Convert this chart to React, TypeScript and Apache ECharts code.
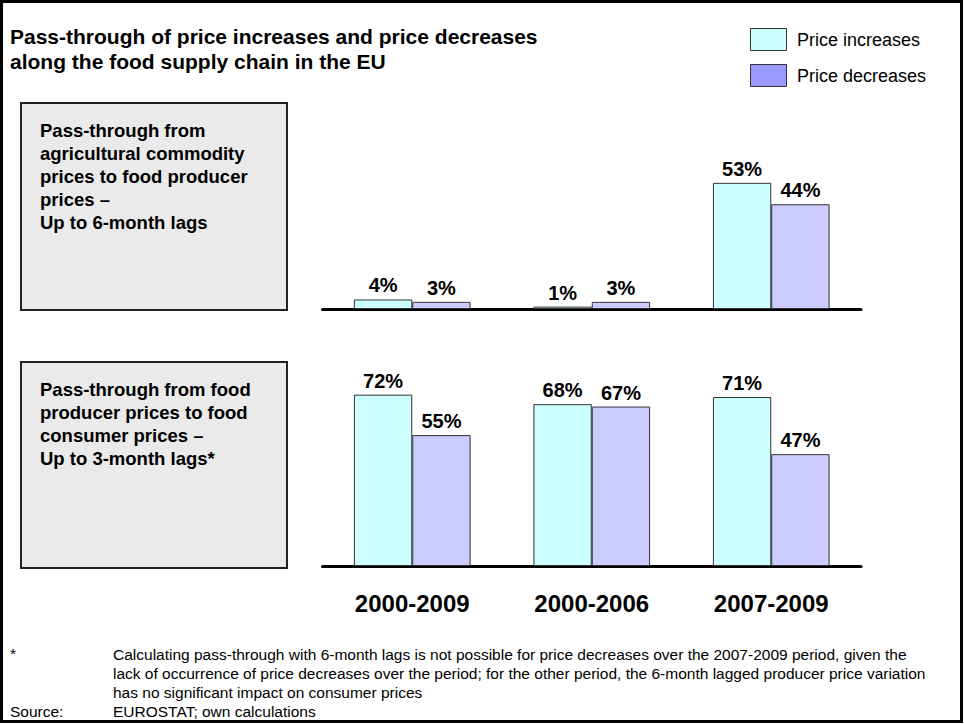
import React, { useEffect, useRef } from "react";
import * as echarts from "echarts";

const categories = ["2000-2009", "2000-2006", "2007-2009"];
const agriIncreases = [4, 1, 53];
const agriDecreases = [3, 3, 44];
const consIncreases = [72, 68, 71];
const consDecreases = [55, 67, 47];

const seriesNames = ["Price increases", "Price decreases"];
const titleLines = [
  "Pass-through of price increases and price decreases",
  "along the food supply chain in the EU",
];
const box1Lines = [
  "Pass-through from",
  "agricultural commodity",
  "prices to food producer",
  "prices \u2013",
  "Up to 6-month lags",
];
const box2Lines = [
  "Pass-through from food",
  "producer prices to food",
  "consumer prices \u2013",
  "Up to 3-month lags*",
];
const footnoteLines = [
  "Calculating pass-through with 6-month lags is not possible for price decreases over the 2007-2009 period, given the",
  "lack of occurrence of price decreases over the period; for the other period, the 6-month lagged producer price variation",
  "has no significant impact on consumer prices",
];
const sourceText = "EUROSTAT; own calculations";

const FONT = '"Liberation Sans", Arial, Helvetica, sans-serif';
const INC_COLOR = "#CCFFFF";
const DEC_COLOR = "#CCCCFF";
const DEC_LEGEND = "#9999FF";

export default function App() {
  const ref = useRef<HTMLDivElement>(null);

  useEffect(() => {
    if (!ref.current) return;
    const chart = echarts.init(ref.current, null, { renderer: "svg" });

    const barLabel = {
      show: true,
      position: "top",
      distance: 4,
      formatter: "{c}%",
      fontFamily: FONT,
      fontWeight: "bold",
      fontSize: 20,
      color: "#000",
    };
    const barSeries = (name: string, data: number[], idx: number, color: string) => ({
      name,
      type: "bar",
      xAxisIndex: idx,
      yAxisIndex: idx,
      data,
      barGap: "0%",
      barCategoryGap: "35%",
      itemStyle: { color, borderColor: "#333", borderWidth: 1 },
      label: barLabel,
      silent: true,
    });

    const axisLine = { show: true, lineStyle: { color: "#000", width: 3 } };

    const graphics: any[] = [];
    graphics.push({
      type: "rect",
      shape: { x: 1.5, y: 1.5, width: 960, height: 720 },
      style: { fill: "none", stroke: "#000", lineWidth: 3 },
      silent: true,
      z: 10,
    });
    titleLines.forEach((t, i) => {
      graphics.push({
        type: "text",
        x: 10,
        y: 36 + i * 25,
        style: {
          text: t,
          font: `bold 21px ${FONT}`,
          fill: "#000",
          verticalAlign: "middle",
        },
      });
    });
    // legend
    const legendColors = [INC_COLOR, DEC_LEGEND];
    seriesNames.forEach((n, i) => {
      graphics.push({
        type: "rect",
        shape: { x: 750.5, y: 28.5 + i * 36, width: 36, height: 22 },
        style: { fill: legendColors[i], stroke: "#333", lineWidth: 1 },
      });
      graphics.push({
        type: "text",
        x: 797,
        y: 40 + i * 36,
        style: {
          text: n,
          font: `18px ${FONT}`,
          fill: "#000",
          verticalAlign: "middle",
        },
      });
    });
    // boxes
    const boxes = [
      { y: 103, h: 207, lines: box1Lines },
      { y: 362, h: 206, lines: box2Lines },
    ];
    boxes.forEach((b) => {
      graphics.push({
        type: "rect",
        shape: { x: 21, y: b.y, width: 266, height: b.h },
        style: { fill: "#EAEAEA", stroke: "#222", lineWidth: 2 },
      });
      b.lines.forEach((t, i) => {
        graphics.push({
          type: "text",
          x: 40,
          y: b.y + 27 + i * 23,
          style: {
            text: t,
            font: `bold 18.5px ${FONT}`,
            fill: "#000",
            verticalAlign: "middle",
          },
        });
      });
    });
    // footnote
    const FOOT = `15.5px ${FONT}`;
    graphics.push({
      type: "text",
      x: 10,
      y: 653,
      style: { text: "*", font: FOOT, fill: "#000", verticalAlign: "middle" },
    });
    footnoteLines.forEach((t, i) => {
      graphics.push({
        type: "text",
        x: 113,
        y: 654 + i * 19,
        style: { text: t, font: FOOT, fill: "#000", verticalAlign: "middle" },
      });
    });
    graphics.push({
      type: "text",
      x: 10,
      y: 711,
      style: { text: "Source:", font: FOOT, fill: "#000", verticalAlign: "middle" },
    });
    graphics.push({
      type: "text",
      x: 113,
      y: 711,
      style: { text: sourceText, font: FOOT, fill: "#000", verticalAlign: "middle" },
    });

    chart.setOption({
      animation: false,
      backgroundColor: "#fff",
      grid: [
        { left: 322.5, right: 103, top: 71, bottom: 415 },
        { left: 322.5, right: 103, top: 328, bottom: 158 },
      ],
      xAxis: [
        {
          type: "category",
          gridIndex: 0,
          data: categories,
          axisLine,
          axisTick: { show: false },
          axisLabel: { show: false },
        },
        {
          type: "category",
          gridIndex: 1,
          data: categories,
          axisLine,
          axisTick: { show: false },
          axisLabel: {
            show: true,
            margin: 25,
            fontFamily: FONT,
            fontWeight: "bold",
            fontSize: 24,
            color: "#000",
          },
        },
      ],
      yAxis: [
        { type: "value", gridIndex: 0, min: 0, max: 100, show: false, splitLine: { show: false } },
        { type: "value", gridIndex: 1, min: 0, max: 100, show: false, splitLine: { show: false } },
      ],
      series: [
        barSeries(seriesNames[0], agriIncreases, 0, INC_COLOR),
        barSeries(seriesNames[1], agriDecreases, 0, DEC_COLOR),
        barSeries(seriesNames[0], consIncreases, 1, INC_COLOR),
        barSeries(seriesNames[1], consDecreases, 1, DEC_COLOR),
      ],
      graphic: graphics,
    });

    return () => chart.dispose();
  }, []);

  return (
    <div
      ref={ref}
      style={{ position: "fixed", left: 0, top: 0, width: 964, height: 724 }}
    />
  );
}
